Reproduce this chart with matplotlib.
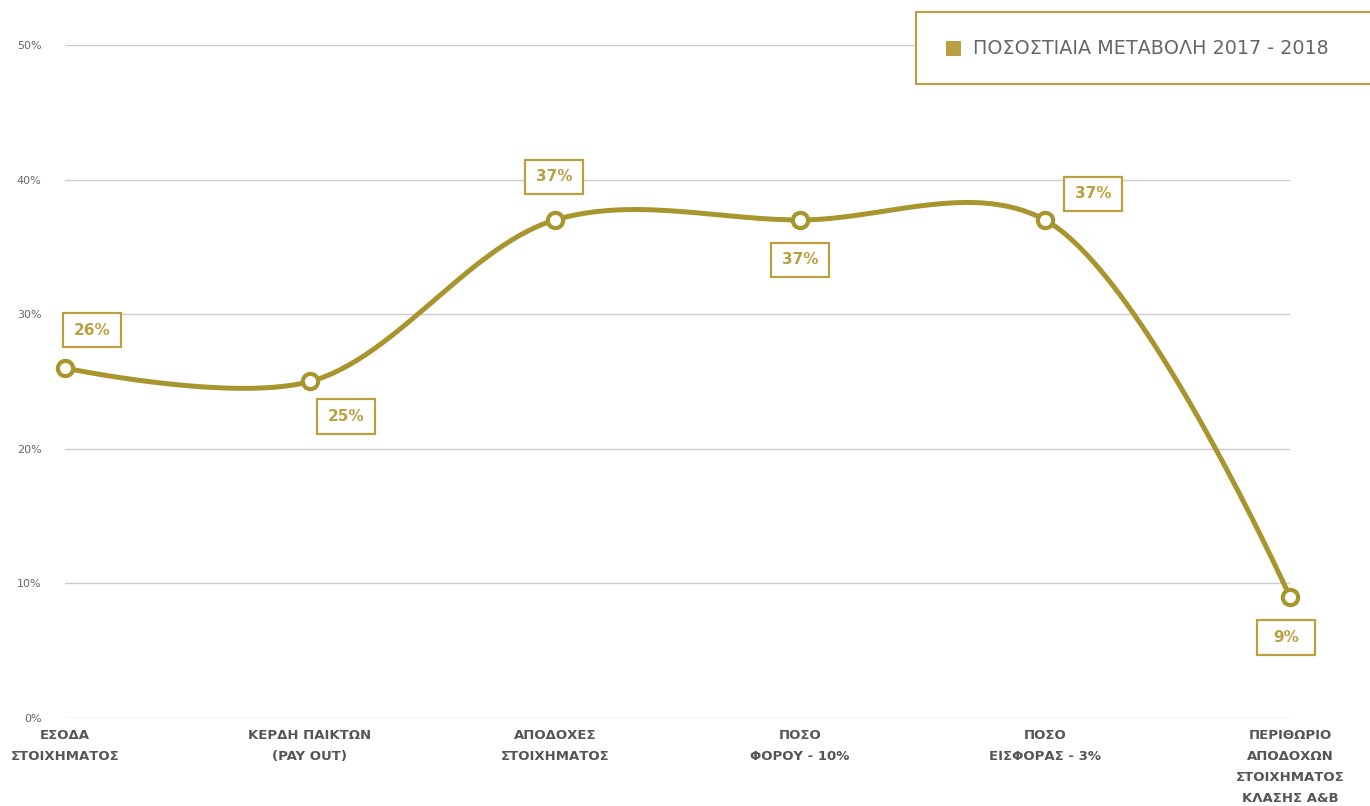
import numpy as np
import matplotlib.pyplot as plt
from matplotlib.patches import Rectangle
from matplotlib.offsetbox import DrawingArea, AnnotationBbox
from matplotlib.text import Text

plt.rcParams['font.family'] = ['DejaVu Sans']

categories = ["ΕΣΟΔΑ\nΣΤΟΙΧΗΜΑΤΟΣ", "ΚΕΡΔΗ ΠΑΙΚΤΩΝ\n(PAY OUT)", "ΑΠΟΔΟΧΕΣ\nΣΤΟΙΧΗΜΑΤΟΣ",
              "ΠΟΣΟ\nΦΟΡΟΥ - 10%", "ΠΟΣΟ\nΕΙΣΦΟΡΑΣ - 3%",
              "ΠΕΡΙΘΩΡΙΟ\nΑΠΟΔΟΧΩΝ\nΣΤΟΙΧΗΜΑΤΟΣ\nΚΛΑΣΗΣ Α&Β"]
values = [26, 25, 37, 37, 37, 9]
series_name = "ΠΟΣΟΣΤΙΑΙΑ ΜΕΤΑΒΟΛΗ 2017 - 2018"
yticks = [0, 10, 20, 30, 40, 50]
# label offsets in pixels (dx, dy)
label_off = [(27, 38), (36, -35), (-1, 43), (0, -40), (48, 26), (-4, -41)]

gold = "#A8952E"
box_gold = "#BCA040"
grey_txt = "#666666"


def catmull_rom(pts, alpha=0.5, n=60):
    # centripetal Catmull-Rom (d3 style), endpoints use the point as control
    pts = np.asarray(pts, float)
    N = len(pts)
    out = [pts[0]]
    t = np.linspace(0, 1, n)[1:]
    for i in range(N - 1):
        p1, p2 = pts[i], pts[i + 1]
        l12_2a = np.sum((p2 - p1) ** 2) ** alpha
        l12_a = np.sqrt(l12_2a)
        c1 = p1.copy()
        c2 = p2.copy()
        if i > 0:
            p0 = pts[i - 1]
            l01_2a = np.sum((p1 - p0) ** 2) ** alpha
            l01_a = np.sqrt(l01_2a)
            a = 2 * l01_2a + 3 * l01_a * l12_a + l12_2a
            m = 3 * l01_a * (l01_a + l12_a)
            c1 = (p1 * a - p0 * l12_2a + p2 * l01_2a) / m
        if i < N - 2:
            p3 = pts[i + 2]
            l23_2a = np.sum((p3 - p2) ** 2) ** alpha
            l23_a = np.sqrt(l23_2a)
            b = 2 * l23_2a + 3 * l23_a * l12_a + l12_2a
            m = 3 * l23_a * (l23_a + l12_a)
            c2 = (p2 * b + p1 * l23_2a - p3 * l12_2a) / m
        seg = ((1 - t) ** 3)[:, None] * p1 + (3 * (1 - t) ** 2 * t)[:, None] * c1 \
            + (3 * (1 - t) * t ** 2)[:, None] * c2 + (t ** 3)[:, None] * p2
        out.extend(seg)
    return np.array(out)


fig = plt.figure(figsize=(13.7, 8.06), dpi=100)
ax = fig.add_axes([65 / 1370, 1 - 718 / 806, (1290 - 65) / 1370, (718 - 45) / 806])

xs = list(range(len(values)))
ax.set_xlim(0, len(values) - 1)
ax.set_ylim(0, 50)

for yv in yticks:
    ax.axhline(yv, color="#cccccc", lw=1, zorder=1)

# build the curve in pixel space, then map back to data
disp = ax.transData.transform(np.column_stack([xs, values]))
curve = ax.transData.inverted().transform(catmull_rom(disp))
ax.plot(curve[:, 0], curve[:, 1], color=gold, lw=3.6, clip_on=False, zorder=3,
        solid_capstyle='round')
ax.plot(xs, values, 'o', ms=11, mfc='white', mec=gold, mew=3, clip_on=False, zorder=4)

# data labels in fixed size boxes
bw, bh = 42, 25  # points
for x, v, (dx, dy) in zip(xs, values, label_off):
    da = DrawingArea(bw, bh, clip=False)
    da.add_artist(Rectangle((0, 0), bw, bh, fc='white', ec=box_gold, lw=1.6))
    da.add_artist(Text(bw / 2, bh / 2, f"{v}%", ha='center', va='center', fontsize=11,
                       fontweight='bold', color=box_gold))
    ab = AnnotationBbox(da, (x, v), xybox=(dx, dy), boxcoords='offset pixels',
                        frameon=False, pad=0, box_alignment=(0.5, 0.5),
                        annotation_clip=False, zorder=5)
    ax.add_artist(ab)

ax.set_yticks(yticks)
ax.set_yticklabels([f"{v}%" for v in yticks], fontsize=8, color=grey_txt)
ax.set_xticks(xs)
ax.set_xticklabels(categories, fontsize=9.5, fontweight='bold', color="#555555", linespacing=1.78)
ax.tick_params(axis='y', length=0, pad=17)
ax.tick_params(axis='x', length=0, pad=8)
for s in ax.spines.values():
    s.set_visible(False)

# legend box
fig.patches.append(Rectangle((916 / 1370, 1 - 84 / 806), 460 / 1370, 72 / 806,
                             transform=fig.transFigure, fc='white', ec=box_gold, lw=1.5, zorder=10))
fig.patches.append(Rectangle((946 / 1370, 1 - 56 / 806), 15 / 1370, 15 / 806,
                             transform=fig.transFigure, fc=box_gold, ec='none', zorder=11))
fig.text(973 / 1370, 1 - 49 / 806, series_name, fontsize=13.8, color=grey_txt,
         ha='left', va='center', zorder=12)

fig.savefig("out.png", dpi=100)
